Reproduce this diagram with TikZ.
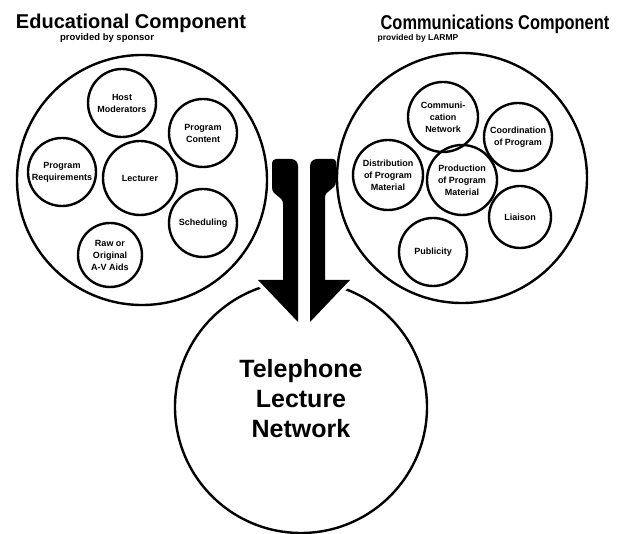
\documentclass[tikz,border=0pt]{standalone}
\usepackage{fontspec}
\setmainfont{Liberation Sans}
\usepackage{tikz}
\usetikzlibrary{positioning}

\begin{document}
\begin{tikzpicture}[x=1pt, y=-1pt,
  bigcirc/.style={circle, draw, line width=2.4pt, inner sep=0pt},
  smallcirc/.style={circle, draw, line width=2.4pt, inner sep=0pt,
              minimum size=68pt, align=center, font=\fontsize{9}{12}\bfseries\selectfont},
  title/.style={font=\fontsize{20}{24}\bfseries\selectfont, anchor=base},
  sub/.style={font=\fontsize{8.5}{10}\bfseries\selectfont, anchor=base},
  halo/.style={fill=white, draw=white, line width=8pt, line join=round},
  arrowfill/.style={fill=black}
]
\useasboundingbox (0,0) rectangle (627,534);

\node[title] (edutitle) at (131,28.5) {Educational Component};
\node[sub, font=\fontsize{9.5}{10}\bfseries\selectfont] (edusub) at (107,41) {provided by sponsor};
\node[title] (comtitle) at (495,29.5) {\scalebox{0.82}[1]{Communications Component}};
\node[sub]   (comsub)   at (418,41)   {provided by LARMP};

\node[bigcirc, minimum size=250pt] (edu) at (142,180) {};
\node[bigcirc, minimum size=250pt] (com) at (462,178) {};
\node[bigcirc, minimum size=252pt] (tln) at (301,407) {};

\node[smallcirc] (host)  at (122,103) {Host\\Moderators};
\node[smallcirc] (cont)  at (203,133) {Program\\Content};
\node[smallcirc] (req)   at (62,172)  {Program\\Requirements};
\node[smallcirc, minimum size=74pt] (lect) at (140,178) {Lecturer};
\node[smallcirc] (sched) at (203,223) {Scheduling};
\node[smallcirc, minimum size=64pt] (aids) at (110,255) {Raw or\\Original\\A-V Aids};

\node[smallcirc, minimum size=70pt] (net)   at (443,117) {Communi-\\cation\\Network};
\node[smallcirc] (coord) at (518,137) {Coordination\\of Program};
\node[smallcirc, minimum size=70pt] (dist)  at (388,175) {Distribution\\of Program\\Material};
\node[smallcirc, minimum size=70pt] (prod)  at (462,180) {Production\\of Program\\Material};
\node[smallcirc, minimum size=62pt] (liai)  at (520,217) {Liaison};
\node[smallcirc] (publ)  at (433,252) {Publicity};

\node[font=\fontsize{25}{30}\bfseries\selectfont, align=center] (tlntext)
  at (301,399) {Telephone\\Lecture\\Network};

\path[halo] (258,280) -- (350,280) -- (304,328) -- cycle;
\path[arrowfill] (298,322) -- (258,280) -- (283,280) -- (283,204)
  .. controls (283,195) and (272,197) .. (272,187)
  [rounded corners=4pt] -- (272,159) [rounded corners=7pt] -- (298,159)
  [sharp corners] -- cycle;
\path[arrowfill] (310,322) -- (350,280) -- (325,280) -- (325,198)
  .. controls (325,189) and (336,191) .. (336,181)
  [rounded corners=3pt] -- (336,159) [rounded corners=7pt] -- (310,159)
  [sharp corners] -- cycle;
\end{tikzpicture}
\end{document}
